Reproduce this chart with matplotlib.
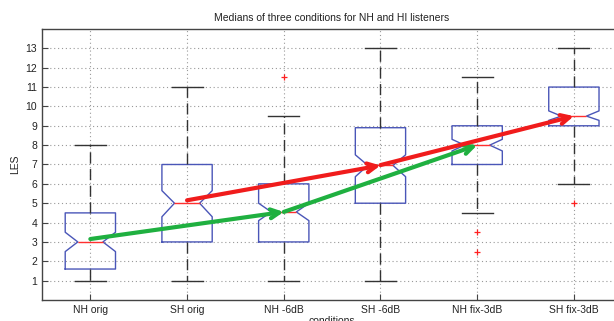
import matplotlib
matplotlib.use("Agg")
import matplotlib.pyplot as plt

plt.rcParams['font.family'] = ['Liberation Sans', 'DejaVu Sans']

conditions = ["NH orig", "SH orig", "NH -6dB", "SH -6dB", "NH fix-3dB", "SH fix-3dB"]
q1 = [1.6, 3.0, 3.0, 5.0, 7.0, 9.0]
medians = [3.0, 5.0, 4.55, 6.95, 8.0, 9.5]
q3 = [4.5, 7.0, 6.0, 8.9, 9.0, 11.0]
whisk_lo = [1.0, 1.0, 1.0, 1.0, 4.5, 6.0]
whisk_hi = [8.0, 11.0, 9.5, 13.0, 11.5, 13.0]
notch_lo = [2.5, 4.3, 4.1, 6.37, 7.7, 9.28]
notch_hi = [3.5, 5.65, 5.0, 7.5, 8.3, 9.77]
outliers = [[], [], [11.5], [], [3.5, 2.5], [5.0]]

# arrows linking medians: (start index, start value, end index, end value)
green_arrows = [(1, 3.15, 3, 4.55), (3, 4.55, 5, 8.0)]
red_arrows = [(2, 5.15, 4, 6.95), (4, 6.97, 6, 9.5)]

fig = plt.figure(figsize=(6.14, 3.21), dpi=100)
ax = fig.add_axes([0.0684, 0.0654, 0.945, 0.8443])

stats = []
for i, c in enumerate(conditions):
    stats.append(dict(label=c, q1=q1[i], med=medians[i], q3=q3[i],
                      whislo=whisk_lo[i], whishi=whisk_hi[i],
                      cilo=notch_lo[i], cihi=notch_hi[i], fliers=outliers[i]))

box_col = '#4a56b8'
ax.bxp(stats, positions=range(1, 7), widths=0.52, shownotches=True,
       capwidths=0.32,
       boxprops=dict(color=box_col, lw=1.0),
       medianprops=dict(color='#ff3030', lw=1.0),
       whiskerprops=dict(color='#333333', lw=1.0, linestyle=(0, (8, 4))),
       capprops=dict(color='#333333', lw=1.0),
       flierprops=dict(marker='+', markeredgecolor='#ff2020', markersize=5,
                       markeredgewidth=0.9, linestyle='none'))

ax.set_xlim(0.5, 6.5)
ax.set_ylim(0, 14)
ax.set_yticks(range(1, 14))
ax.grid(True, linestyle=(0, (1, 2.5)), color='#999999', lw=0.8)
ax.set_axisbelow(True)
ax.tick_params(direction='in', labelsize=7.5, length=4, color='#444444', labelcolor='#222222')
for s in ax.spines.values():
    s.set_color('#444444')
    s.set_linewidth(1.0)

def draw_arrows(arrows, color):
    for x0, y0, x1, y1 in arrows:
        ax.annotate('', xy=(x1, y1), xytext=(x0, y0),
                    arrowprops=dict(arrowstyle='->', color=color, lw=3,
                                    mutation_scale=16, shrinkA=0, shrinkB=0),
                    zorder=5)

draw_arrows(green_arrows, '#1fb040')
draw_arrows(red_arrows, '#f01c1c')

ax.set_title("Medians of three conditions for NH and HI listeners", fontsize=7.5, pad=6, color='#222222')
ax.set_ylabel("LES", fontsize=7.5, labelpad=4, color='#222222')
ax.set_xlabel("conditions", fontsize=7.5, labelpad=1, color='#222222')

fig.savefig("out.png", dpi=100)
